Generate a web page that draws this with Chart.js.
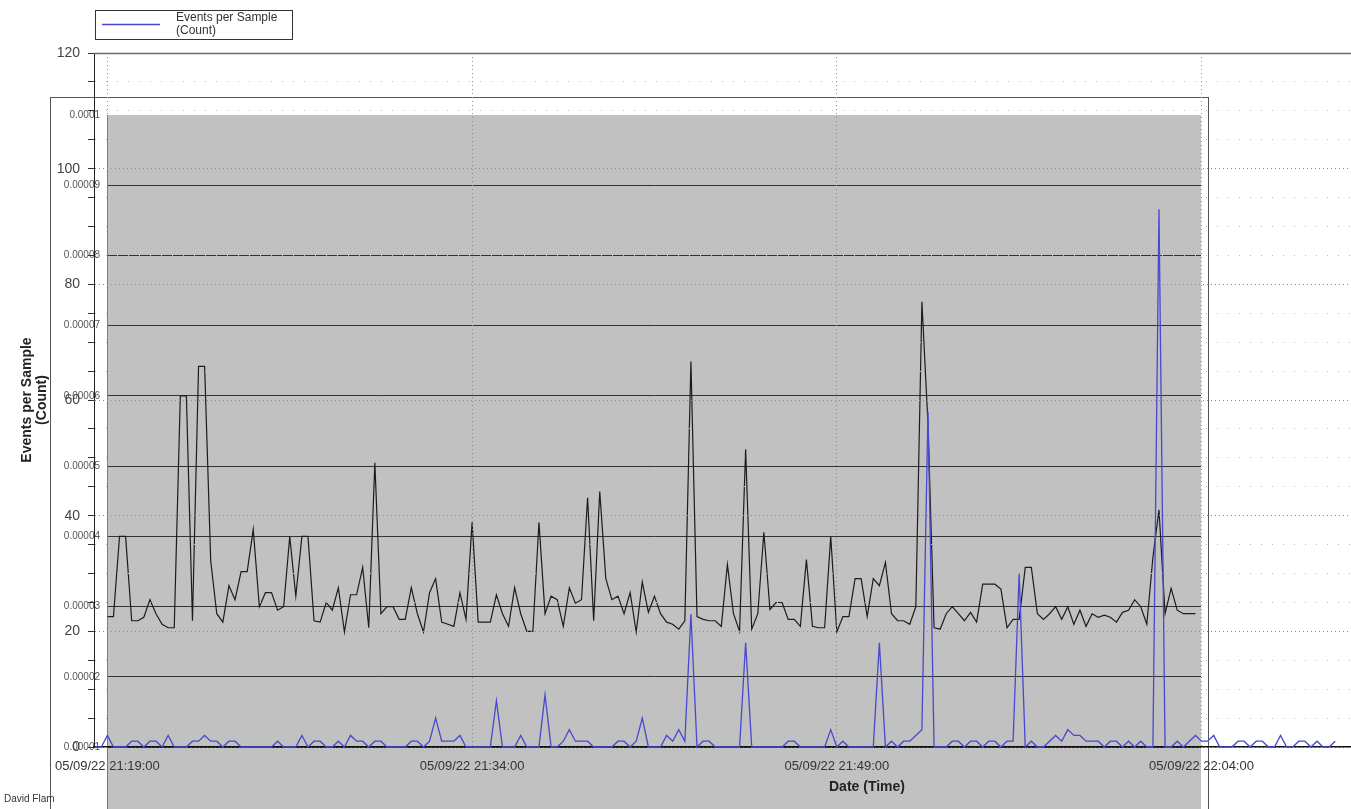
<!DOCTYPE html>
<html>
<head>
<meta charset="utf-8">
<script src="https://cdn.jsdelivr.net/npm/chart.js@4.4.1/dist/chart.umd.min.js"></script>
<style>
  html, body { margin: 0; padding: 0; background: #fff; width: 1351px; height: 809px; overflow: hidden; position: relative; font-family: "Liberation Sans", Arial, sans-serif; }
  #panel { position: absolute; left: 50px; top: 97px; width: 1159px; height: 760px; box-sizing: border-box; border: 1px solid #555; border-bottom: none; }
  #inner { position: absolute; left: 0; top: 0; }
  #outer { position: absolute; left: 0; top: 0; }
  #author { position: absolute; left: 4px; top: 793px; font-size: 10px; color: #333; }
</style>
</head>
<body>
<div id="panel"><canvas id="inner" width="1157" height="711"></canvas></div>
<canvas id="outer" width="1640" height="809"></canvas>
<div id="author">David Flam</div>
<script>
// ---- axis labels ----
const timeTickLabels = ['05/09/22 21:19:00', '05/09/22 21:34:00', '05/09/22 21:49:00', '05/09/22 22:04:00', '05/09/22 22:19:00'];
const countTickLabels = ['0', '20', '40', '60', '80', '100', '120'];
const rateTickLabels = ['0.00001', '0.00002', '0.00003', '0.00004', '0.00005', '0.00006', '0.00007', '0.00008', '0.00009', '0.0001'];
const seriesName = 'Events per Sample (Count)';
const yTitle = ['Events per Sample', '(Count)'];
const xTitle = 'Date (Time)';

// ---- sampling ----
const sampleSeconds = 15;
const countStart = '21:18:30';
const rateStart = '21:19:00';

// events per sample, one value per 15 s sample from 21:18:30
const eventCounts = [
  0, 0, 2, 0, 0, 0, 1, 1, 0, 1,
  1, 0, 2, 0, 0, 0, 1, 1, 2, 1,
  1, 0, 1, 1, 0, 0, 0, 0, 0, 0,
  1, 0, 0, 0, 2, 0, 1, 1, 0, 0,
  1, 0, 2, 1, 1, 0, 1, 1, 0, 0,
  0, 0, 1, 1, 0, 1, 5, 1, 1, 1,
  2, 0, 0, 0, 0, 0, 8, 0, 0, 0,
  2, 0, 0, 0, 9, 0, 0, 1, 3, 1,
  1, 1, 0, 0, 0, 0, 1, 1, 0, 1,
  5, 0, 0, 0, 2, 1, 3, 1, 23, 0,
  1, 1, 0, 0, 0, 0, 0, 18, 0, 0,
  0, 0, 0, 0, 1, 1, 0, 0, 0, 0,
  0, 3, 0, 1, 0, 0, 0, 0, 0, 18,
  0, 1, 0, 1, 1, 2, 3, 58, 0, 0,
  0, 1, 1, 0, 1, 1, 0, 1, 1, 0,
  1, 1, 30, 0, 1, 0, 0, 1, 2, 1,
  3, 2, 2, 1, 1, 1, 0, 1, 1, 0,
  1, 0, 1, 0, 0, 93, 0, 0, 1, 0,
  1, 2, 1, 1, 2, 0, 0, 0, 1, 1,
  0, 1, 1, 0, 0, 2, 0, 0, 1, 1,
  0, 1, 0, 0, 1
];

// panel trace, one value per 15 s sample from 21:19:00
const panelRate = [
  2.86e-5, 2.86e-5, 4.0e-5, 4.0e-5, 2.8e-5, 2.8e-5, 2.85e-5, 3.1e-5, 2.9e-5, 2.75e-5,
  2.7e-5, 2.7e-5, 6.0e-5, 6.0e-5, 2.8e-5, 6.42e-5, 6.42e-5, 3.65e-5, 2.9e-5, 2.78e-5,
  3.3e-5, 3.1e-5, 3.5e-5, 3.5e-5, 4.1e-5, 3.0e-5, 3.2e-5, 3.2e-5, 2.95e-5, 3.0e-5,
  4.0e-5, 3.15e-5, 4.0e-5, 4.0e-5, 2.8e-5, 2.78e-5, 3.06e-5, 2.95e-5, 3.27e-5, 2.64e-5,
  3.17e-5, 3.17e-5, 3.56e-5, 2.7e-5, 5.05e-5, 2.9e-5, 3.0e-5, 3.0e-5, 2.82e-5, 2.82e-5,
  3.27e-5, 2.9e-5, 2.64e-5, 3.2e-5, 3.4e-5, 2.78e-5, 2.75e-5, 2.72e-5, 3.2e-5, 2.82e-5,
  4.2e-5, 2.78e-5, 2.78e-5, 2.78e-5, 3.17e-5, 2.9e-5, 2.72e-5, 3.27e-5, 2.9e-5, 2.65e-5,
  2.65e-5, 4.2e-5, 2.9e-5, 3.15e-5, 3.1e-5, 2.72e-5, 3.27e-5, 3.05e-5, 3.1e-5, 4.55e-5,
  2.8e-5, 4.64e-5, 3.4e-5, 3.1e-5, 3.15e-5, 2.9e-5, 3.2e-5, 2.64e-5, 3.35e-5, 2.92e-5,
  3.15e-5, 2.9e-5, 2.78e-5, 2.75e-5, 2.68e-5, 2.8e-5, 6.49e-5, 2.86e-5, 2.82e-5, 2.8e-5,
  2.8e-5, 2.72e-5, 3.6e-5, 2.9e-5, 2.65e-5, 5.24e-5, 2.68e-5, 2.9e-5, 4.06e-5, 2.96e-5,
  3.06e-5, 3.06e-5, 2.82e-5, 2.82e-5, 2.72e-5, 3.67e-5, 2.72e-5, 2.7e-5, 2.7e-5, 4.0e-5,
  2.64e-5, 2.86e-5, 2.86e-5, 3.4e-5, 3.4e-5, 2.86e-5, 3.4e-5, 3.3e-5, 3.63e-5, 2.9e-5,
  2.8e-5, 2.8e-5, 2.75e-5, 3.0e-5, 7.34e-5, 5.6e-5, 2.7e-5, 2.68e-5, 2.9e-5, 3.0e-5,
  2.9e-5, 2.8e-5, 2.92e-5, 2.78e-5, 3.32e-5, 3.32e-5, 3.32e-5, 3.25e-5, 2.7e-5, 2.82e-5,
  2.82e-5, 3.56e-5, 3.56e-5, 2.9e-5, 2.82e-5, 2.9e-5, 3.0e-5, 2.82e-5, 3.0e-5, 2.75e-5,
  2.95e-5, 2.72e-5, 2.9e-5, 2.85e-5, 2.88e-5, 2.85e-5, 2.78e-5, 2.92e-5, 2.95e-5, 3.1e-5,
  3.0e-5, 2.75e-5, 3.7e-5, 4.38e-5, 2.9e-5, 3.26e-5, 2.95e-5, 2.9e-5, 2.9e-5, 2.9e-5
];

const FONT = '"Liberation Sans", Arial, sans-serif';
Chart.defaults.font.family = FONT;

// seconds since the first time tick
function clockSec(hms) {
  const p = hms.split(':').map(Number);
  return p[0] * 3600 + p[1] * 60 + p[2];
}
const t0 = clockSec(timeTickLabels[0].split(' ')[1]);
const timeTickSecs = timeTickLabels.map(l => clockSec(l.split(' ')[1]) - t0);
const countPts = eventCounts.map((v, i) => ({ x: clockSec(countStart) - t0 + i * sampleSeconds, y: v }));
const ratePts = panelRate.map((v, i) => ({ x: clockSec(rateStart) - t0 + i * sampleSeconds, y: v }));

// top frame line and boxed legend
const frameAndLegend = {
  id: 'frameAndLegend',
  afterDraw(chart) {
    const { ctx, chartArea: a } = chart;
    const ds = chart.data.datasets[0];
    ctx.save();
    ctx.strokeStyle = '#6a6a6a';
    ctx.lineWidth = 1.5;
    ctx.beginPath();
    ctx.moveTo(a.left, a.top + 0.5);
    ctx.lineTo(a.right, a.top + 0.5);
    ctx.stroke();

    ctx.strokeStyle = '#333';
    ctx.lineWidth = 1;
    ctx.strokeRect(95.5, 10.5, 197, 29);
    ctx.strokeStyle = ds.borderColor;
    ctx.lineWidth = 1.5;
    ctx.beginPath();
    ctx.moveTo(102, 24.5);
    ctx.lineTo(160, 24.5);
    ctx.stroke();
    const lines = ds.label.replace(' (', '\n(').split('\n');
    ctx.fillStyle = '#333';
    ctx.font = '12px ' + FONT;
    ctx.textBaseline = 'middle';
    ctx.textAlign = 'left';
    lines.forEach((t, i) => ctx.fillText(t, 176, 17.5 + i * 13.5));
    ctx.restore();
  }
};

const outer = new Chart(document.getElementById('outer'), {
  type: 'line',
  data: {
    datasets: [{
      label: seriesName,
      data: countPts,
      borderColor: '#4848d0',
      borderWidth: 1.3,
      pointRadius: 0,
      tension: 0,
      clip: 6
    }]
  },
  options: {
    responsive: false,
    animation: false,
    events: [],
    layout: { padding: { top: 53, left: 0, right: 0, bottom: 0 } },
    plugins: { legend: { display: false }, tooltip: { enabled: false } },
    scales: {
      x: {
        type: 'linear',
        min: -33,
        max: 3782,
        afterBuildTicks: s => { s.ticks = timeTickSecs.map(v => ({ value: v })); },
        afterFit: s => { s.height = 62; s.paddingLeft = 0; s.paddingRight = 0; },
        ticks: {
          autoSkip: false, maxRotation: 0, padding: 12, color: '#333',
          font: { size: 13 },
          callback: v => { const k = timeTickSecs.indexOf(v); return k >= 0 ? timeTickLabels[k] : ''; }
        },
        grid: { drawTicks: false, color: '#8c8c8c', lineWidth: 1 },
        border: { display: true, color: '#111', width: 1.6, dash: [1, 3] },
        title: { display: true, text: xTitle, color: '#222', font: { size: 14, weight: 'bold' }, padding: { top: 0, bottom: 13 } }
      },
      y: {
        min: 0,
        max: 120,
        afterFit: s => { s.width = 94; s.paddingTop = 0; s.paddingBottom = 0; },
        ticks: {
          stepSize: 5, autoSkip: false, padding: 8, color: '#444',
          font: { size: 14 },
          callback: v => (countTickLabels.includes(String(v)) ? String(v) : '')
        },
        grid: {
          tickLength: 6,
          tickColor: '#333',
          color: c => (c.tick && c.tick.value % 20 === 0 ? '#8c8c8c' : '#bdbdbd'),
          lineWidth: 1
        },
        border: {
          color: '#222', width: 1,
          dash: c => (c.tick && c.tick.value % 20 === 0 ? [1, 3] : [1, 10])
        },
        title: { display: true, text: yTitle, color: '#222', font: { size: 14, weight: 'bold', lineHeight: 1.1 }, padding: { top: 19, bottom: 0 } }
      }
    }
  },
  plugins: [frameAndLegend]
});

// grey panel behind the outer chart, sharing its time scale
const panelFill = {
  id: 'panelFill',
  beforeDraw(chart) {
    const { ctx, chartArea: a } = chart;
    ctx.save();
    ctx.fillStyle = '#c1c1c1';
    ctx.fillRect(a.left, a.top, a.right - a.left, chart.height - a.top);
    ctx.restore();
  }
};

const panelLeft = 107, panelRight = 1201;
new Chart(document.getElementById('inner'), {
  type: 'line',
  data: {
    datasets: [{
      label: 'panel',
      data: ratePts,
      borderColor: '#1c1c1c',
      borderWidth: 1.2,
      pointRadius: 0,
      tension: 0,
      clip: false
    }]
  },
  options: {
    responsive: false,
    animation: false,
    events: [],
    layout: { padding: { top: 17, right: 7, left: 0, bottom: 0 } },
    plugins: { legend: { display: false }, tooltip: { enabled: false } },
    scales: {
      x: {
        type: 'linear',
        display: false,
        min: outer.scales.x.getValueForPixel(panelLeft),
        max: outer.scales.x.getValueForPixel(panelRight)
      },
      y: {
        min: 0.0000012,
        max: 0.0001,
        afterBuildTicks: s => { s.ticks = rateTickLabels.map(l => ({ value: parseFloat(l) })); },
        afterFit: s => { s.width = 56; s.paddingTop = 0; s.paddingBottom = 0; },
        ticks: { autoSkip: false, padding: 7, color: '#555', font: { size: 10 }, callback: (v, i) => rateTickLabels[i] },
        grid: { drawTicks: false, color: c => (c.tick && c.tick.value >= 0.0001 ? 'rgba(0,0,0,0)' : '#333'), lineWidth: 1 },
        border: { color: '#777', width: 1 }
      }
    }
  },
  plugins: [panelFill]
});
</script>
</body>
</html>
